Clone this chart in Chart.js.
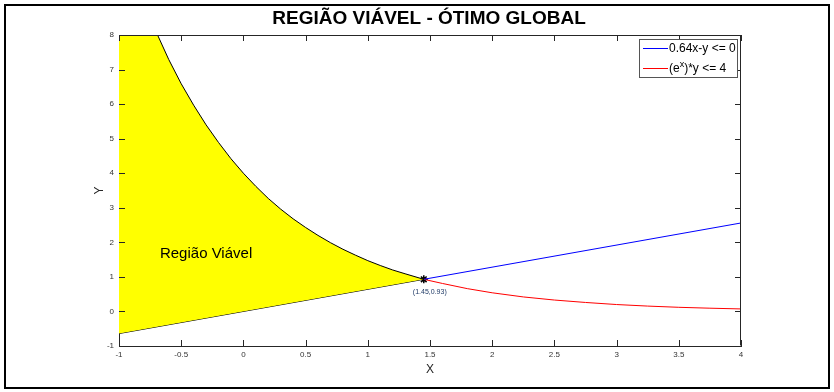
<!DOCTYPE html>
<html>
<head>
<meta charset="utf-8">
<script src="https://cdn.jsdelivr.net/npm/chart.js@4"></script>
<style>
  html, body { margin: 0; padding: 0; background: #fff; }
  #wrap { width: 834px; height: 392px; }
</style>
</head>
<body>
<div id="wrap"><canvas id="grafico" width="834" height="392"></canvas></div>
<script>
// dados
const limiteX = [-0.69, -0.6, -0.5, -0.4, -0.3, -0.2, -0.1, 0, 0.1, 0.2, 0.3, 0.4, 0.5, 0.6, 0.7, 0.8, 0.9, 1.0, 1.1, 1.2, 1.3, 1.45];
const limiteY = [8.0, 7.29, 6.59, 5.97, 5.40, 4.89, 4.42, 4.00, 3.62, 3.27, 2.96, 2.68, 2.43, 2.20, 1.99, 1.80, 1.63, 1.47, 1.33, 1.20, 1.09, 0.93];

const retaX = [-1, 1.45, 4];
const retaY = [-0.64, 0.93, 2.56];

const curvaX = [1.45, 1.6, 1.8, 2.0, 2.25, 2.5, 2.75, 3.0, 3.25, 3.5, 3.75, 4.0];
const curvaY = [0.93, 0.81, 0.66, 0.54, 0.42, 0.33, 0.26, 0.20, 0.155, 0.12, 0.094, 0.073];

const otimo = { x: 1.45, y: 0.93 };
const legendas = ['0.64x-y <= 0', '(e', 'x', ')*y <= 4'];
const titulo = 'REGIÃO VIÁVEL - ÓTIMO GLOBAL';

// borda superior da região (topo do eixo + curva)
const topoRegiao = [{ x: -1, y: 8 }].concat(limiteX.map((x, i) => ({ x, y: limiteY[i] })));
const baseRegiao = [{ x: retaX[0], y: retaY[0] }, { x: retaX[1], y: retaY[1] }];
const retaAzul = [{ x: retaX[1], y: retaY[1] }, { x: retaX[2], y: retaY[2] }];
const curvaVermelha = curvaX.map((x, i) => ({ x, y: curvaY[i] }));

const corEixo = '#262626';

const desenhos = {
    id: 'desenhos',
    beforeDraw(chart) {
        const ctx = chart.ctx;
        ctx.save();
        ctx.fillStyle = '#fff';
        ctx.fillRect(0, 0, chart.width, chart.height);
        ctx.restore();
    },
    afterDraw(chart) {
        const ctx = chart.ctx;
        const a = chart.chartArea;
        const sx = chart.scales.x;
        const sy = chart.scales.y;
        ctx.save();

        // caixa do eixo e ticks internos
        ctx.strokeStyle = corEixo;
        ctx.lineWidth = 1;
        ctx.beginPath();
        ctx.moveTo(a.left + 0.5, a.top + 0.5);
        ctx.lineTo(a.right - 0.5, a.top + 0.5);
        ctx.lineTo(a.right - 0.5, a.bottom - 0.5);
        ctx.stroke();
        ctx.beginPath();
        sx.ticks.forEach(t => {
            const px = Math.round(sx.getPixelForValue(t.value)) + 0.5;
            ctx.moveTo(px, a.bottom); ctx.lineTo(px, a.bottom - 6);
            ctx.moveTo(px, a.top); ctx.lineTo(px, a.top + 6);
        });
        sy.ticks.forEach(t => {
            const py = Math.round(sy.getPixelForValue(t.value)) + 0.5;
            ctx.moveTo(a.left, py); ctx.lineTo(a.left + 6, py);
            ctx.moveTo(a.right, py); ctx.lineTo(a.right - 6, py);
        });
        ctx.stroke();

        // textos
        ctx.fillStyle = '#000';
        ctx.font = '15px "Liberation Sans", Arial, sans-serif';
        ctx.textAlign = 'center';
        ctx.textBaseline = 'middle';
        ctx.fillText('Região Viável', sx.getPixelForValue(-0.3), sy.getPixelForValue(1.66));

        ctx.fillStyle = '#1f3a66';
        ctx.font = '7px "Liberation Sans", Arial, sans-serif';
        ctx.fillText('(' + otimo.x + ',' + otimo.y + ')', sx.getPixelForValue(otimo.x) + 6, sy.getPixelForValue(otimo.y) + 13);

        ctx.fillStyle = corEixo;
        ctx.font = '12px "Liberation Sans", Arial, sans-serif';
        ctx.fillText('X', (a.left + a.right) / 2, 370);
        ctx.save();
        ctx.translate(100, (a.top + a.bottom) / 2);
        ctx.rotate(-Math.PI / 2);
        ctx.fillText('Y', 0, 0);
        ctx.restore();

        ctx.fillStyle = '#000';
        ctx.font = 'bold 19px "Liberation Sans", Arial, sans-serif';
        ctx.fillText(titulo, 429, 19);

        // legenda
        const lx = 639.5, ly = 39.5, lw = 98, lh = 38;
        ctx.fillStyle = '#fff';
        ctx.fillRect(lx, ly, lw, lh);
        ctx.strokeStyle = '#555';
        ctx.strokeRect(lx, ly, lw, lh);
        ctx.lineWidth = 1;
        ctx.strokeStyle = '#0000ff';
        ctx.beginPath(); ctx.moveTo(643, 48.5); ctx.lineTo(668, 48.5); ctx.stroke();
        ctx.strokeStyle = '#ff0000';
        ctx.beginPath(); ctx.moveTo(643, 68.5); ctx.lineTo(668, 68.5); ctx.stroke();
        ctx.fillStyle = '#000';
        ctx.textAlign = 'left';
        ctx.font = '12px "Liberation Sans", Arial, sans-serif';
        ctx.fillText(legendas[0], 669, 49);
        let px = 669;
        ctx.fillText(legendas[1], px, 69);
        px += ctx.measureText(legendas[1]).width;
        ctx.font = '9px "Liberation Sans", Arial, sans-serif';
        ctx.fillText(legendas[2], px, 65);
        px += ctx.measureText(legendas[2]).width;
        ctx.font = '12px "Liberation Sans", Arial, sans-serif';
        ctx.fillText(legendas[3], px, 69);

        // moldura externa
        ctx.strokeStyle = '#000';
        ctx.lineWidth = 2;
        ctx.strokeRect(5, 5, 824, 383);
        ctx.restore();
    }
};

new Chart(document.getElementById('grafico'), {
    type: 'scatter',
    data: {
        datasets: [
            {
                data: topoRegiao,
                showLine: true,
                borderColor: '#000',
                borderWidth: 1,
                backgroundColor: '#ffff00',
                pointRadius: 0,
                fill: '+1'
            },
            {
                data: baseRegiao,
                showLine: true,
                borderColor: '#000',
                borderWidth: 1,
                pointRadius: 0,
                fill: false
            },
            {
                data: retaAzul,
                showLine: true,
                borderColor: '#0000ff',
                borderWidth: 1,
                pointRadius: 0,
                fill: false
            },
            {
                data: curvaVermelha,
                showLine: true,
                borderColor: '#ff0000',
                borderWidth: 1,
                pointRadius: 0,
                fill: false
            },
            {
                data: [otimo],
                pointStyle: 'star',
                pointRadius: 4,
                borderColor: '#000',
                borderWidth: 1.5,
                backgroundColor: '#000'
            }
        ]
    },
    options: {
        responsive: false,
        animation: false,
        layout: { padding: { left: 0, top: 35, right: 93, bottom: 0 } },
        plugins: {
            legend: { display: false },
            title: { display: false },
            tooltip: { enabled: false }
        },
        scales: {
            x: {
                type: 'linear',
                min: -1,
                max: 4,
                afterFit: s => { s.height = 46; },
                ticks: { stepSize: 0.5, callback: v => String(v), color: '#333', padding: 4, font: { size: 8, family: '"Liberation Sans", Arial' } },
                grid: { drawOnChartArea: false, drawTicks: false },
                border: { color: corEixo }
            },
            y: {
                min: -1,
                max: 8,
                afterFit: s => { s.width = 119; },
                ticks: { stepSize: 1, callback: v => String(v), color: '#333', padding: 5, font: { size: 8, family: '"Liberation Sans", Arial' } },
                grid: { drawOnChartArea: false, drawTicks: false },
                border: { color: corEixo }
            }
        }
    },
    plugins: [desenhos]
});
</script>
</body>
</html>
